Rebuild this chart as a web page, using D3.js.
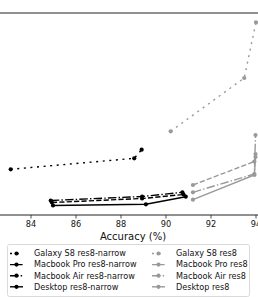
<!DOCTYPE html>
<html>
<head>
<meta charset="utf-8">
<script src="https://cdn.jsdelivr.net/npm/d3@7"></script>
<style>
  body { margin: 0; background: #fff; }
  svg { display: block; font-family: "DejaVu Sans", sans-serif; }
</style>
</head>
<body>
<svg id="chart" width="258" height="297"></svg>
<script>
// accuracy (%) on x, latency (arbitrary units, axis cropped) on y
var galaxyNarrowAcc = [83.12, 88.61, 88.94];
var galaxyNarrowLat = [45.7, 56.7, 65.3];
var proNarrowAcc = [84.95, 88.96, 90.8];
var proNarrowLat = [12.5, 16.5, 20.5];
var airNarrowAcc = [84.9, 88.96, 90.75];
var airNarrowLat = [14.5, 18.5, 22.7];
var desktopNarrowAcc = [85.0, 89.13, 90.9];
var desktopNarrowLat = [9.5, 10.7, 18.3];

var galaxyAcc = [90.23, 93.5, 94.02];
var galaxyLat = [83.7, 137, 192.7];
var proAcc = [91.22, 93.95, 94.0];
var proLat = [30, 53.5, 61];
var airAcc = [91.22, 93.95, 94.0];
var airLat = [22.7, 41, 80];
var desktopAcc = [91.22, 93.95, 94.0];
var desktopLat = [15.3, 40, 58];

var xTicks = [84, 86, 88, 90, 92, 94];

var names = ['Galaxy S8 res8-narrow', 'Macbook Pro res8-narrow', 'Macbook Air res8-narrow', 'Desktop res8-narrow',
             'Galaxy S8 res8', 'Macbook Pro res8', 'Macbook Air res8', 'Desktop res8'];

var dashes = { dot: '2,4.6', dash: '5.2,2.2', dashdot: '8.5,2.2,1.4,2.2', solid: null };

var series = [
  {name: names[0], acc: galaxyNarrowAcc, lat: galaxyNarrowLat, color: '#000', dash: dashes.dot},
  {name: names[1], acc: proNarrowAcc, lat: proNarrowLat, color: '#000', dash: dashes.dash},
  {name: names[2], acc: airNarrowAcc, lat: airNarrowLat, color: '#000', dash: dashes.dashdot},
  {name: names[3], acc: desktopNarrowAcc, lat: desktopNarrowLat, color: '#000', dash: dashes.solid},
  {name: names[4], acc: galaxyAcc, lat: galaxyLat, color: '#999', dash: dashes.dot},
  {name: names[5], acc: proAcc, lat: proLat, color: '#999', dash: dashes.dash},
  {name: names[6], acc: airAcc, lat: airLat, color: '#999', dash: dashes.dashdot},
  {name: names[7], acc: desktopAcc, lat: desktopLat, color: '#999', dash: dashes.solid}
];

// plot box; the left part of the figure is cropped away in the reference
var plotTop = 13, plotBottom = 215;

var x = d3.scaleLinear()
  .domain([84, 94])
  .range([30.5, 255.5]);

var y = d3.scaleLinear()
  .domain([0, 202])
  .range([plotBottom, plotTop]);

var svg = d3.select('#chart');

// top spine
svg.append('line')
  .attr('x1', 0).attr('x2', 258)
  .attr('y1', plotTop).attr('y2', plotTop)
  .attr('stroke', '#222').attr('stroke-width', 1);

// x axis
var xAxis = d3.axisBottom(x)
  .tickValues(xTicks)
  .tickFormat(d3.format('d'))
  .tickSizeInner(3.5)
  .tickSizeOuter(0)
  .tickPadding(2.5);

var gx = svg.append('g')
  .attr('transform', 'translate(0,' + plotBottom + ')')
  .call(xAxis);
gx.select('.domain').remove();
gx.append('line')
  .attr('x1', 0).attr('x2', 258)
  .attr('stroke', '#222').attr('stroke-width', 1);
gx.selectAll('.tick line').attr('stroke', '#222').attr('stroke-width', 0.8);
gx.selectAll('.tick text')
  .attr('fill', '#111')
  .style('font-size', '8.2px')
  .style('font-family', '"DejaVu Sans", sans-serif');

svg.append('text')
  .attr('x', 133)
  .attr('y', 239.5)
  .attr('text-anchor', 'middle')
  .attr('fill', '#111')
  .style('font-size', '10px')
  .text('Accuracy (%)');

// series
var line = d3.line()
  .x(function(d) { return x(d[0]); })
  .y(function(d) { return y(d[1]); });

series.forEach(function(s) {
  var pts = s.acc.map(function(a, i) { return [a, s.lat[i]]; });
  svg.append('path')
    .datum(pts)
    .attr('d', line)
    .attr('fill', 'none')
    .attr('stroke', s.color)
    .attr('stroke-width', 1.4)
    .attr('stroke-dasharray', s.dash);
  svg.selectAll(null)
    .data(pts)
    .enter()
    .append('circle')
    .attr('cx', function(d) { return x(d[0]); })
    .attr('cy', function(d) { return y(d[1]); })
    .attr('r', 2.1)
    .attr('fill', s.color);
});

// legend
var legend = svg.append('g');
legend.append('rect')
  .attr('x', 7.5).attr('y', 244.5)
  .attr('width', 242).attr('height', 52)
  .attr('rx', 2)
  .attr('fill', '#fff')
  .attr('stroke', '#d0d0d0')
  .attr('stroke-width', 0.8);

var item = legend.selectAll('g.item')
  .data(series)
  .enter()
  .append('g')
  .attr('class', 'item')
  .attr('transform', function(d, i) {
    var col = i < 4 ? 0 : 1, row = i % 4;
    return 'translate(' + (col ? 152 : 10) + ',' + (253.5 + row * 11.1) + ')';
  });

item.append('line')
  .attr('x1', 0).attr('x2', 13)
  .attr('stroke', function(d) { return d.color; })
  .attr('stroke-width', 1.4)
  .attr('stroke-dasharray', function(d) { return d.dash; });
item.append('circle')
  .attr('cx', 6.5).attr('r', 2.1)
  .attr('fill', function(d) { return d.color; });
item.append('text')
  .attr('x', 24)
  .attr('dy', '0.35em')
  .attr('fill', '#111')
  .style('font-size', '8.1px')
  .text(function(d) { return d.name; });
</script>
</body>
</html>
